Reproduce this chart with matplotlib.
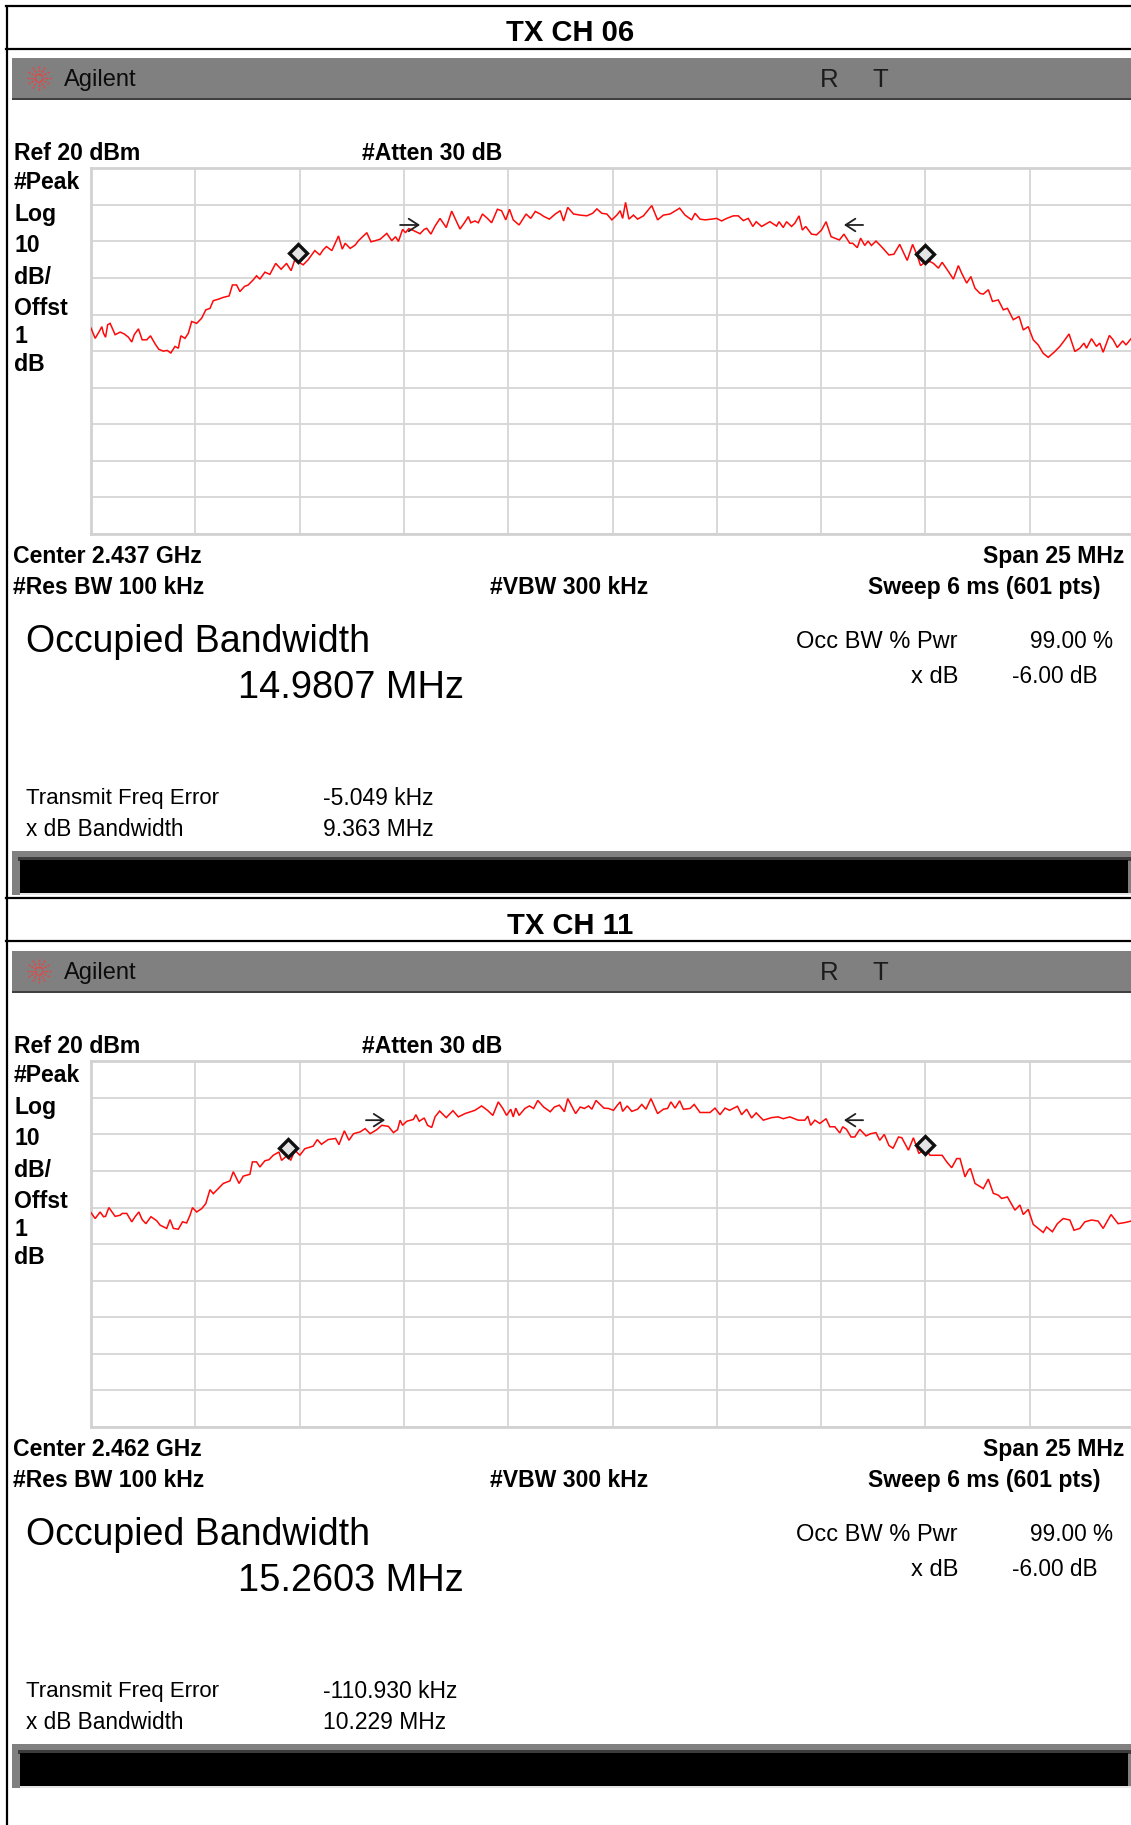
import numpy as np
import matplotlib
matplotlib.use("Agg")
import matplotlib.pyplot as plt
from matplotlib.patches import Rectangle

plt.rcParams['font.family'] = ['Liberation Sans', 'DejaVu Sans']

W, H = 1131, 1825
PANEL_OFFSET = 893

# ---------- data ----------
titles = ["TX CH 06", "TX CH 11"]
centers = ["Center 2.437 GHz", "Center 2.462 GHz"]
occ_bw = ["14.9807 MHz", "15.2603 MHz"]
freq_err = ["-5.049 kHz", "-110.930 kHz"]
xdb_bw = ["9.363 MHz", "10.229 MHz"]
side_labels = ["#Peak", "Log", "10", "dB/", "Offst", "1", "dB"]

freq_06 = [-12.50,-12.40,-12.30,-12.24,-12.20,-12.15,-12.10,-12.04,-11.92,-11.80,-11.70,-11.60,-11.52,-11.46,-11.36,-11.27,-11.16,-11.07,-10.96,-10.87,-10.76,-10.67,-10.58,-10.48,-10.40,-10.34,-10.24,-10.16,-10.08,-9.96,-9.84,-9.74,-9.64,-9.56,-9.44,-9.32,-9.18,-9.10,-9.00,-8.92,-8.81,-8.72,-8.60,-8.52,-8.44,-8.32,-8.20,-8.06,-7.93,-7.80,-7.69,-7.60,-7.40,-7.28,-7.12,-7.00,-6.92,-6.84,-6.71,-6.55,-6.46,-6.39,-6.27,-6.15,-6.07,-5.87,-5.77,-5.67,-5.55,-5.39,-5.27,-5.18,-5.11,
 -5.07,-5.01,-4.94,-4.86,-4.75,-4.59,-4.49,-4.43,-4.33,-4.23,-4.11,-3.96,-3.83,-3.71,-3.63,-3.53,-3.43,-3.37,-3.27,-3.19,-3.09,-2.97,-2.87,-2.73,-2.63,-2.53,-2.44,-2.35,-2.21,-2.04,-1.93,-1.82,-1.70,-1.61,-1.48,-1.34,-1.22,-1.14,-1.04,-0.90,-0.74,-0.58,-0.44,-0.34,-0.22,-0.10,0.02,0.14,0.22,0.28,0.35,0.43,0.54,0.64,0.78,0.98,1.12,1.26,1.42,1.52,1.65,1.78,1.94,2.02,2.14,2.26,2.42,2.54,2.66,2.78,2.94,3.06,3.18,3.30,3.41,3.49,3.62,3.82,3.94,
 3.98,4.04,4.14,4.22,4.34,4.42,4.52,4.60,4.68,4.82,4.94,5.06,5.17,5.29,5.38,5.49,5.60,5.74,5.81,5.92,6.00,6.10,6.18,6.26,6.37,6.50,6.68,6.80,6.94,7.12,7.25,7.37,7.44,7.55,7.67,7.75,7.87,7.96,8.11,8.23,8.35,8.43,8.55,8.65,8.75,8.87,8.95,9.07,9.17,9.31,9.43,9.53,9.67,9.81,9.91,10.03,10.15,10.27,10.39,10.51,10.67,10.79,10.91,11.01,11.15,11.27,11.37,11.43,11.55,11.67,11.75,11.83,11.98,12.07,12.17,12.30,12.38,12.50]
level_06 = [-23.7,-26.5,-24.6,-23.3,-25.1,-26.2,-22.8,-22.4,-25.5,-24.8,-25.3,-26.2,-27.5,-25.5,-23.9,-26.9,-26.9,-25.8,-28.0,-29.5,-30.0,-29.8,-30.5,-28.7,-29.2,-25.8,-26.5,-25.1,-21.9,-22.4,-21.0,-18.7,-18.3,-16.2,-15.8,-15.3,-14.9,-11.9,-11.9,-13.7,-12.3,-11.9,-10.5,-9.4,-10.3,-8.4,-9.0,-6.0,-7.6,-6.0,-8.0,-5.0,-6.4,-5.0,-2.5,-3.7,-2.3,-1.4,-2.5,1.5,-2.1,-0.5,-1.9,-1.0,0.2,2.4,-0.1,0.2,0.6,2.2,0.2,1.3,0.0,
 1.3,3.3,2.4,3.5,3.0,2.1,3.3,3.6,2.0,4.2,6.3,3.8,8.3,5.4,3.4,5.0,6.8,5.1,5.6,5.1,7.5,6.3,5.1,8.8,8.4,5.9,8.8,5.9,4.5,7.5,6.3,8.2,7.5,6.8,6.1,7.5,8.4,5.6,9.3,7.5,7.2,7.0,7.7,8.9,7.7,7.5,5.9,7.2,8.4,6.3,10.7,6.1,7.2,6.1,7.0,9.8,5.9,7.2,7.5,8.2,9.1,7.2,5.9,7.7,6.1,5.9,6.1,6.3,5.6,6.3,7.0,7.0,5.7,6.3,4.1,5.4,4.1,5.4,4.5,
 4.2,5.4,3.8,5.4,4.1,5.0,7.0,3.1,4.1,2.0,1.8,3.1,5.4,1.3,0.9,0.4,2.0,-0.5,-0.5,-1.7,0.9,-1.1,0.1,-1.1,0.1,-1.4,-3.7,-3.5,-0.8,-5.2,-0.8,-4.1,-6.6,-5.7,-5.5,-6.0,-7.3,-5.7,-8.2,-10.3,-6.6,-8.7,-11.4,-9.6,-12.8,-14.2,-14.4,-13.2,-16.4,-16.0,-18.7,-18.3,-21.4,-20.5,-24.2,-23.3,-26.9,-28.3,-30.6,-31.7,-30.1,-28.7,-26.9,-25.3,-30.1,-29.2,-27.8,-29.2,-26.6,-28.7,-27.8,-30.3,-25.7,-26.9,-29.0,-27.2,-28.3,-26.6]

freq_11 = [-12.50,-12.40,-12.28,-12.20,-12.15,-12.07,-11.92,-11.80,-11.75,-11.64,-11.52,-11.44,-11.35,-11.27,-11.18,-11.06,-10.92,-10.84,-10.68,-10.60,-10.52,-10.40,-10.30,-10.20,-10.12,-10.06,-9.96,-9.84,-9.74,-9.64,-9.56,-9.44,-9.32,-9.16,-9.08,-8.94,-8.84,-8.68,-8.62,-8.52,-8.44,-8.32,-8.22,-8.12,-7.98,-7.92,-7.78,-7.70,-7.60,-7.48,-7.36,-7.16,-7.06,-6.96,-6.80,-6.62,-6.54,-6.41,-6.30,-6.19,-6.03,-5.91,-5.79,-5.63,-5.51,-5.35,-5.23,-5.13,
 -5.07,-5.01,-4.91,-4.75,-4.69,-4.61,-4.49,-4.41,-4.31,-4.23,-4.12,-3.96,-3.80,-3.67,-3.51,-3.43,-3.27,-3.11,-2.97,-2.84,-2.71,-2.60,-2.51,-2.41,-2.35,-2.29,-2.21,-2.07,-1.96,-1.86,-1.76,-1.62,-1.46,-1.36,-1.24,-1.12,-1.04,-0.85,-0.74,-0.64,-0.54,-0.46,-0.36,-0.17,-0.06,0.06,0.14,0.22,0.28,0.39,0.50,0.64,0.74,0.84,0.96,1.12,1.26,1.36,1.44,1.54,1.65,1.74,1.90,2.00,2.14,2.38,2.50,2.62,2.74,2.85,3.04,3.14,3.26,3.38,3.49,3.66,3.86,
 4.02,4.14,4.30,4.50,4.66,4.73,4.80,4.90,5.02,5.17,5.26,5.38,5.50,5.57,5.66,5.77,5.86,5.98,6.13,6.24,6.37,6.46,6.57,6.68,6.78,6.91,6.99,7.15,7.27,7.40,7.55,7.67,7.79,7.96,8.07,8.19,8.31,8.39,8.51,8.59,8.64,8.75,8.95,9.07,9.19,9.31,9.39,9.53,9.71,9.83,9.91,10.03,10.15,10.27,10.39,10.47,10.61,10.73,10.87,11.03,11.13,11.27,11.39,11.55,11.71,11.83,12.02,12.19,12.35,12.50]
level_11 = [-21.4,-23.0,-21.2,-22.5,-22.4,-20.0,-22.4,-22.1,-21.6,-21.6,-23.9,-22.5,-21.2,-23.3,-24.4,-22.5,-23.6,-24.8,-25.7,-23.3,-25.7,-25.9,-23.9,-24.2,-22.1,-20.0,-21.2,-20.3,-18.9,-15.1,-16.2,-14.8,-13.4,-12.7,-10.2,-13.4,-11.4,-10.9,-7.5,-7.5,-8.9,-7.2,-6.9,-5.7,-4.8,-7.1,-5.7,-7.1,-4.3,-5.7,-3.9,-3.2,-1.4,-2.7,-1.4,-1.1,-2.8,1.0,-1.6,0.2,0.7,1.6,0.2,1.3,2.5,2.2,0.5,1.3,
 3.9,2.5,3.6,4.1,5.4,3.6,4.5,2.5,1.9,4.8,6.4,4.6,6.5,4.8,5.7,6.0,6.6,7.8,6.6,5.2,8.9,7.1,5.2,6.9,4.8,7.2,5.2,7.1,7.8,7.1,9.3,7.5,6.2,7.5,8.0,6.2,9.8,5.7,7.5,7.1,7.8,6.9,9.3,7.2,7.1,6.6,7.8,8.9,6.3,7.8,6.3,6.9,8.2,6.9,9.8,5.7,6.9,7.1,8.9,7.2,9.2,6.9,7.1,8.2,6.0,6.0,7.2,5.4,7.2,6.6,7.7,5.4,6.9,4.5,5.9,3.9,4.6,
 4.8,4.3,4.8,3.9,3.9,5.0,2.5,3.9,3.0,4.3,2.1,2.1,0.4,2.1,1.4,-0.7,-0.7,1.4,-0.4,0.2,0.5,-1.6,0.0,-3.0,-3.8,-0.7,-0.9,-4.3,-0.9,-5.2,-3.9,-5.7,-5.7,-5.7,-7.5,-9.1,-6.6,-6.6,-11.6,-9.8,-9.3,-13.4,-14.8,-12.2,-16.1,-16.6,-17.5,-17.1,-20.7,-19.3,-21.9,-20.5,-24.6,-25.7,-26.8,-25.3,-26.6,-24.4,-23.0,-23.4,-26.2,-25.7,-23.9,-23.4,-23.7,-25.7,-21.9,-24.4,-24.1,-23.7]

marker_freq = [[-7.52, 7.55], [-7.77, 7.55]]
marker_level = [[-3.1, -3.3], [-3.7, -3.0]]
arrow_right = [[-5.07, -4.59, 4.5], [-5.89, -5.43, 3.9]]
arrow_left = [[6.06, 5.60, 4.5], [6.06, 5.60, 3.9]]

traces = [(freq_06, level_06), (freq_11, level_11)]

# ---------- figure ----------
fig = plt.figure(figsize=(W / 100, H / 100), dpi=100, facecolor='white')
page = fig.add_axes([0, 0, 1, 1], zorder=0)
page.set_xlim(0, W)
page.set_ylim(H, 0)
page.axis('off')


def label(x, y, s, size=16.6, weight='bold', ha='left', color='black'):
    page.text(x, y + 1.8, s, fontsize=size, fontweight=weight, ha=ha, va='center', color=color)


def rect(x, y, w, h, color):
    page.add_patch(Rectangle((x, y), w, h, facecolor=color, edgecolor='none'))


# left page border
page.plot([7, 7], [5, H], color='black', lw=1.6, solid_capstyle='butt')

for i in range(2):
    dy = i * PANEL_OFFSET
    # title box rules
    page.plot([6, W], [6 + dy - i, 6 + dy - i], color='black', lw=1.6)
    page.plot([6, W], [49 + dy - i, 49 + dy - i], color='black', lw=1.6)
    label(570, 31 + dy, titles[i], size=21, ha='center')

    # header bar
    rect(12, 58 + dy, W - 12, 42, '#808080')
    rect(12, 98 + dy, W - 12, 2, '#404040')
    label(64, 78 + dy, "Agilent", size=17, weight='normal', color='#0c0c0c')
    label(829, 78 + dy, "R", size=18.5, weight='normal', ha='center', color='#1c1c1c')
    label(880, 78 + dy, "T", size=18.5, weight='normal', ha='center', color='#1c1c1c')
    for ang in np.arange(0, 360, 30):
        c, s = np.cos(np.radians(ang)), np.sin(np.radians(ang))
        page.plot([39 + 3 * c, 39 + 13 * c], [78 + dy + 3 * s, 78 + dy + 13 * s],
                  color='#f04040', lw=1.0, ls=(0, (1.5, 1)))

    # instrument labels
    label(14, 152 + dy, "Ref 20 dBm")
    label(362, 152 + dy, "#Atten 30 dB")
    for s, y in zip(side_labels, [181, 213, 244, 276, 307, 335, 363]):
        label(14, y + dy, s)
    label(13, 555 + dy, centers[i])
    label(1124, 555 + dy, "Span 25 MHz", ha='right')
    label(13, 586 + dy, "#Res BW 100 kHz")
    label(490, 586 + dy, "#VBW 300 kHz")
    label(1100, 586 + dy, "Sweep 6 ms (601 pts)", ha='right')

    # measurement block
    label(26, 640 + dy, "Occupied Bandwidth", size=27, weight='normal')
    label(238, 686 + dy, occ_bw[i], size=27.4, weight='normal')
    label(796, 640 + dy, "Occ BW % Pwr", size=17, weight='normal')
    label(1113, 640 + dy, "99.00 %", size=16.3, weight='normal', ha='right')
    label(958, 675 + dy, "x dB", size=17, weight='normal', ha='right')
    label(1098, 675 + dy, "-6.00 dB", size=16.3, weight='normal', ha='right')
    label(26, 797 + dy, "Transmit Freq Error", size=16, weight='normal')
    label(323, 797 + dy, freq_err[i], size=16.5, weight='normal')
    label(26, 828 + dy, "x dB Bandwidth", size=16.3, weight='normal')
    label(323, 828 + dy, xdb_bw[i], size=16.5, weight='normal')

    # message bar
    rect(12, 851 + dy, W - 12, 44, '#808080')
    rect(18, 857 + dy, W - 18, 4, '#3c3c3c')
    rect(20, 860 + dy, W - 23, 33, 'black')
    rect(20, 893 + dy, W - 20, 2, '#e6e6e6')

    # spectrum graticule: x span runs slightly past the page edge, as in the capture
    left, top, width, height = 91, 168.3 + dy, 1043, 365.7
    ax = fig.add_axes([left / W, 1 - (top + height) / H, width / W, height / H], zorder=2)
    ax.patch.set_alpha(0)
    fmin, fmax = -12.5, 12.572
    ax.set_xlim(fmin, fmax)
    ax.set_ylim(-80, 20)
    ax.set_xticks(np.linspace(fmin, fmax, 11))
    ax.set_yticks(np.arange(-80, 21, 10))
    ax.grid(True, color='#d6d6d6', lw=1.3)
    ax.tick_params(length=0, labelbottom=False, labelleft=False)
    ax.set_axisbelow(True)
    for sp in ax.spines.values():
        sp.set_color('#d2d2d2')
        sp.set_linewidth(2.0)

    f, lv = traces[i]
    ax.plot(f, lv, color='#ff0808', lw=1.1, solid_joinstyle='miter', zorder=3, clip_on=True)
    ax.plot(marker_freq[i], marker_level[i], ls='none', marker='D', ms=8.8, mew=2.4,
            mec='#101010', mfc='#e4e4e4', zorder=5)
    for a in (arrow_right[i], arrow_left[i]):
        ax.annotate('', xy=(a[1], a[2]), xytext=(a[0], a[2]), zorder=5,
                    arrowprops=dict(arrowstyle='->,head_length=0.7,head_width=0.45',
                                    color='#202020', lw=1.3, shrinkA=0, shrinkB=0))

fig.savefig('out.png', dpi=100, facecolor='white')
